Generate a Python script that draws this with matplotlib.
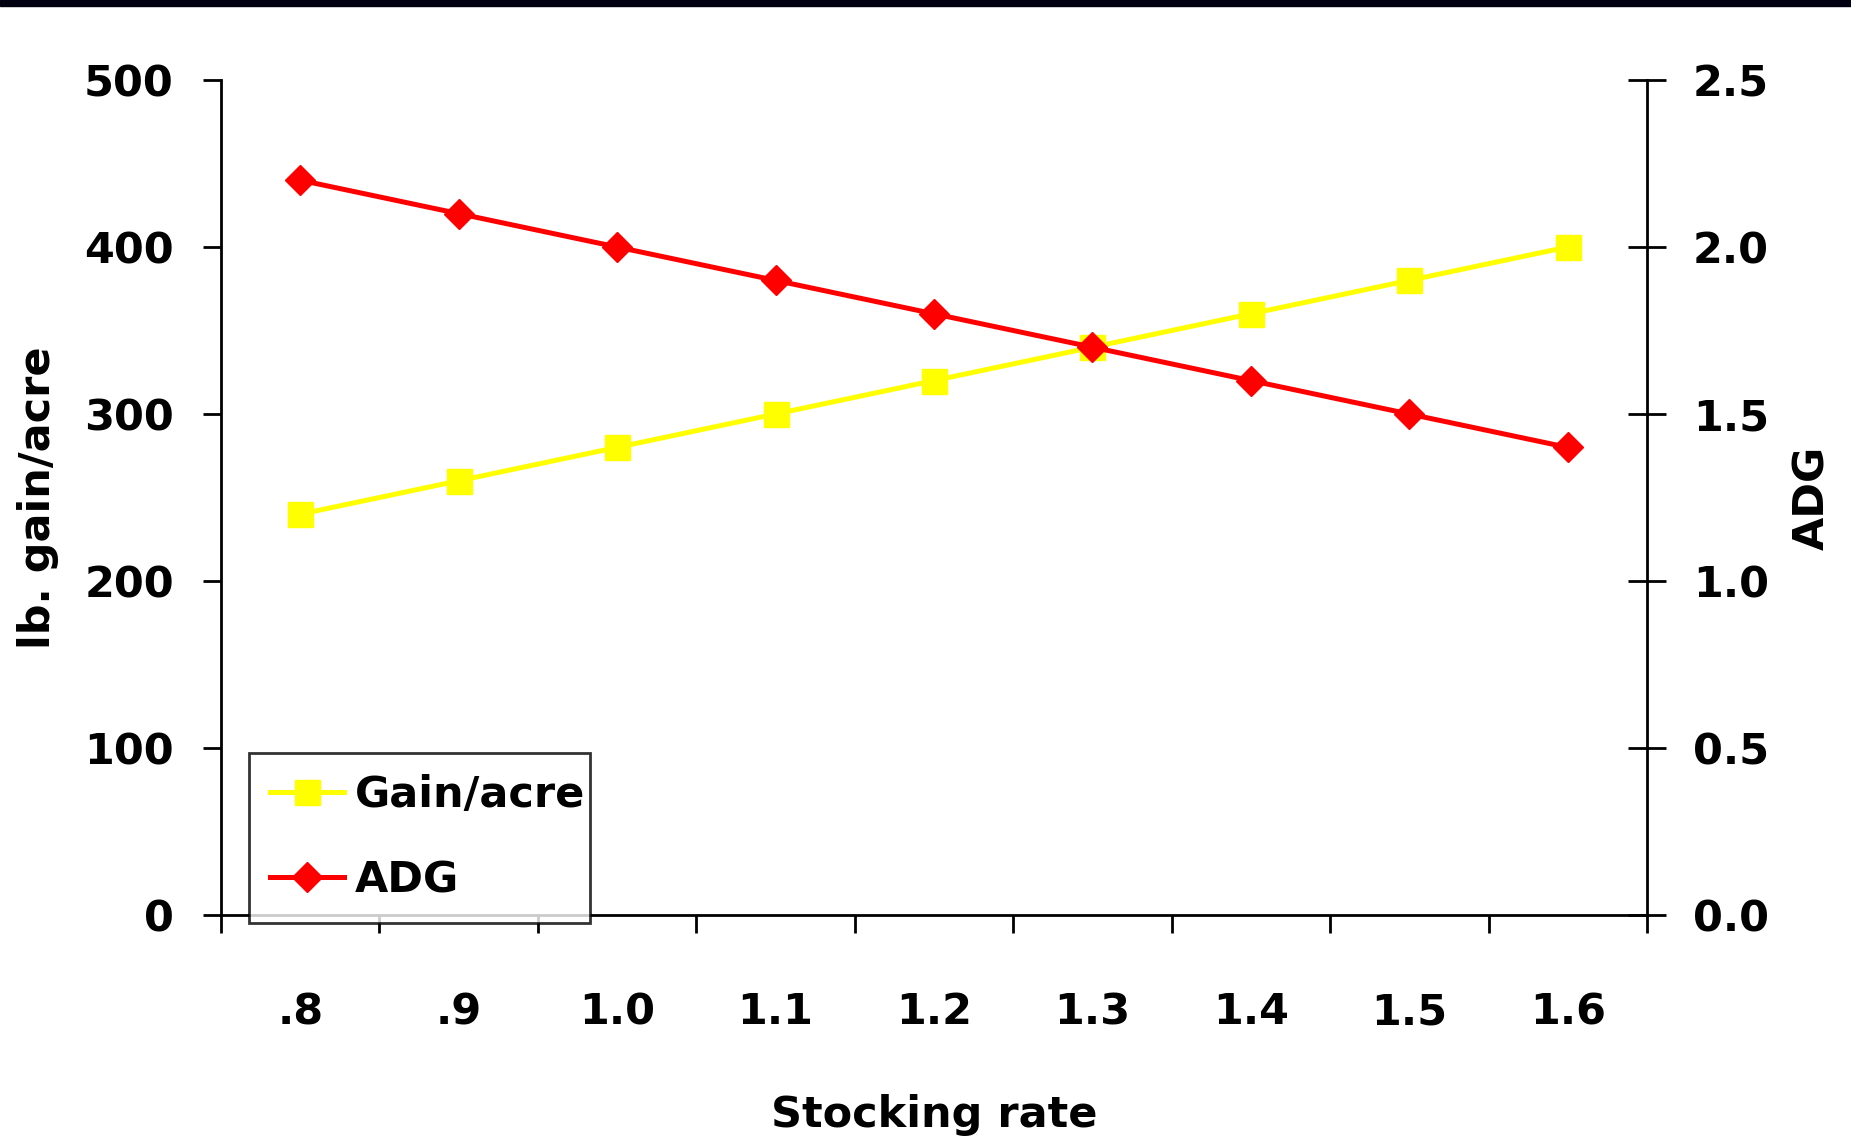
import matplotlib
matplotlib.use("Agg")
import matplotlib.pyplot as plt
from matplotlib.patches import Rectangle
from matplotlib.ticker import FixedLocator, NullFormatter
import numpy as np

categories = [".8", ".9", "1.0", "1.1", "1.2", "1.3", "1.4", "1.5", "1.6"]
gain_per_acre = [240, 260, 280, 300, 320, 340, 360, 380, 400]
adg = [2.2, 2.1, 2.0, 1.9, 1.8, 1.7, 1.6, 1.5, 1.4]
left_ticks = [0, 100, 200, 300, 400, 500]
right_ticks = [0.0, 0.5, 1.0, 1.5, 2.0, 2.5]

plt.rcParams["font.family"] = ["DejaVu Sans"]
plt.rcParams["font.weight"] = "bold"
FS = 31

fig = plt.figure(figsize=(18.51, 11.41), dpi=100)
ax = fig.add_axes([221 / 1851, 1 - 915 / 1141, 1426 / 1851, 835 / 1141])
ax2 = ax.twinx()

x = np.arange(len(categories))
l1, = ax.plot(x, gain_per_acre, color="#FFFF00", lw=3.6, marker="s", ms=18,
              label="Gain/acre", zorder=3)
l2, = ax2.plot(x, adg, color="#FF0000", lw=3.6, marker="D", ms=15,
               label="ADG", zorder=3)

ax.set_xlim(-0.5, len(categories) - 0.5)
ax.set_ylim(0, 500)
ax2.set_ylim(0, 2.5)

# category boundaries get the tick marks, centers get the labels
ax.xaxis.set_major_locator(FixedLocator(np.arange(len(categories) + 1) - 0.5))
ax.xaxis.set_major_formatter(NullFormatter())
ax.xaxis.set_minor_locator(FixedLocator(x))
ax.set_xticklabels(categories, minor=True)
ax.tick_params(axis="x", which="major", direction="out", length=13, width=2)
ax.tick_params(axis="x", which="minor", length=0, pad=55, labelsize=FS)

ax.set_yticks(left_ticks)
ax.set_yticklabels([str(v) for v in left_ticks])
ax.tick_params(axis="y", direction="out", length=13, width=2, pad=21, labelsize=FS)
ax2.set_yticks(right_ticks)
ax2.set_yticklabels([f"{v:.1f}" for v in right_ticks])
ax2.tick_params(axis="y", direction="inout", length=28, width=2, pad=19, labelsize=FS)

for a in (ax, ax2):
    a.spines["top"].set_visible(False)
    for s in ("left", "right", "bottom"):
        a.spines[s].set_linewidth(2)
ax.spines["right"].set_visible(False)
ax2.spines["left"].set_visible(False)
ax2.spines["bottom"].set_visible(False)

ax.set_ylabel("lb. gain/acre", fontsize=FS, fontweight="bold", va="center")
ax.yaxis.set_label_coords(-0.128, 0.5)
ax2.set_ylabel("ADG", fontsize=FS, fontweight="bold", rotation=90, va="center")
ax2.yaxis.set_label_coords(1.116, 0.5)
ax.set_xlabel("Stocking rate", fontsize=FS, fontweight="bold")
ax.xaxis.set_label_coords(0.5, -0.24)
ax.xaxis.label.set_va("center")

leg = ax2.legend(handles=[l1, l2], loc="lower left",
                 bbox_to_anchor=(0.0196, -0.0096, 0.239, 0.205), mode="expand",
                 fontsize=FS, frameon=True, fancybox=False, borderaxespad=0,
                 handlelength=1.7, handletextpad=0.25, labelspacing=1.0,
                 borderpad=0.5)
leg.get_frame().set_edgecolor("black")
leg.get_frame().set_linewidth(2)

fig.add_artist(Rectangle((0, 1 - 6 / 1141), 1, 6 / 1141, transform=fig.transFigure,
                         color="#000010", zorder=10))

fig.savefig("out.png", dpi=100)
